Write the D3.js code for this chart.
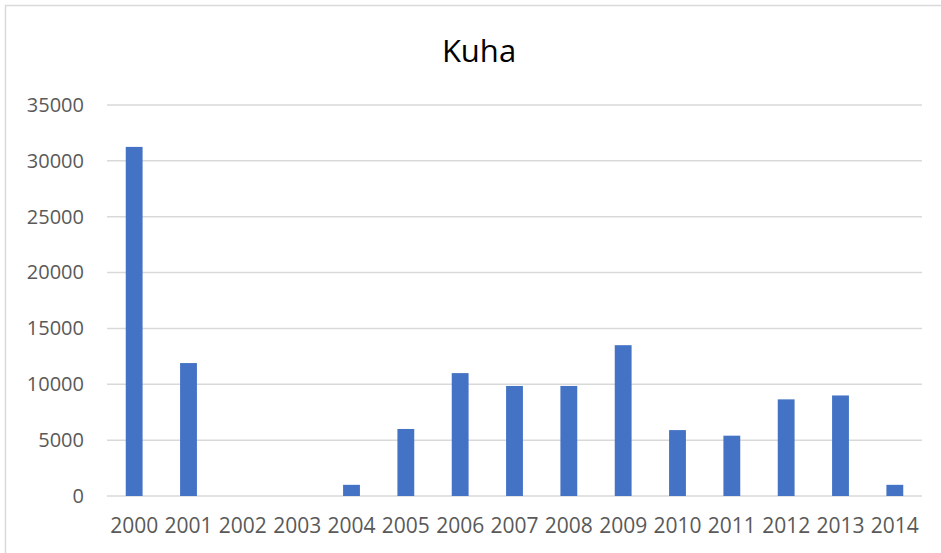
<!DOCTYPE html>
<html>
<head>
<meta charset="utf-8">
<script src="https://cdn.jsdelivr.net/npm/d3@7"></script>
<style>
  html, body { margin: 0; padding: 0; background: #fff; }
  svg { display: block; }
</style>
</head>
<body>
<svg id="chart" width="941" height="553"></svg>
<script>
// Annual catch figures for "Kuha"
const years = ["2000", "2001", "2002", "2003", "2004", "2005", "2006", "2007",
               "2008", "2009", "2010", "2011", "2012", "2013", "2014"];
const values = [31250, 11900, 0, 0, 1000, 6000, 11000, 9850,
                9850, 13500, 5900, 5400, 8650, 9000, 1000];
const yTicks = [0, 5000, 10000, 15000, 20000, 25000, 30000, 35000];
const title = "Kuha";

const svg = d3.select("#chart");
const W = 941, H = 553;
const margin = { left: 107, right: 19, top: 105, bottom: 57 };
const fontFamily = "'Open Sans', 'Noto Sans', sans-serif";

// chart frame
svg.append("rect")
  .attr("x", 5.5).attr("y", 5.5)
  .attr("width", W + 20).attr("height", H + 20)
  .attr("fill", "#fff")
  .attr("stroke", "#d9d9d9").attr("stroke-width", 1.5);

const x = d3.scaleBand()
  .domain(years)
  .range([margin.left, W - margin.right])
  .paddingInner(0.69).paddingOuter(0.345);

const y = d3.scaleLinear()
  .domain([0, 35000])
  .range([H - margin.bottom, margin.top]);

// gridlines
svg.append("g")
  .selectAll("line")
  .data(yTicks)
  .join("line")
  .attr("x1", margin.left).attr("x2", W - margin.right)
  .attr("y1", d => y(d)).attr("y2", d => y(d))
  .attr("stroke", "#d9d9d9").attr("stroke-width", 1.5);

// y axis labels
const yAxis = d3.axisLeft(y).tickValues(yTicks).tickSize(0).tickPadding(0)
  .tickFormat(d3.format("d"));
const gy = svg.append("g").attr("transform", `translate(84,0)`).call(yAxis);
gy.select(".domain").remove();
gy.selectAll("text")
  .attr("fill", "#595959")
  .style("font-family", fontFamily)
  .style("font-size", "20px");

// bars
svg.append("g")
  .selectAll("rect")
  .data(values)
  .join("rect")
  .attr("x", (d, i) => x(years[i]))
  .attr("width", x.bandwidth())
  .attr("y", d => y(d))
  .attr("height", d => y(0) - y(d))
  .attr("fill", "#4472c4");

// x axis labels
const xAxis = d3.axisBottom(x).tickSize(0).tickPadding(0);
const gx = svg.append("g").attr("transform", `translate(0,${y(0) + 22})`).call(xAxis);
gx.select(".domain").remove();
gx.selectAll("text")
  .attr("fill", "#595959")
  .attr("dy", "0.71em")
  .style("font-family", fontFamily)
  .style("font-size", "21px");

// title
svg.append("text")
  .attr("x", 479).attr("y", 62)
  .attr("text-anchor", "middle")
  .attr("fill", "#000")
  .style("font-family", fontFamily)
  .style("font-size", "31px")
  .text(title);
</script>
</body>
</html>
